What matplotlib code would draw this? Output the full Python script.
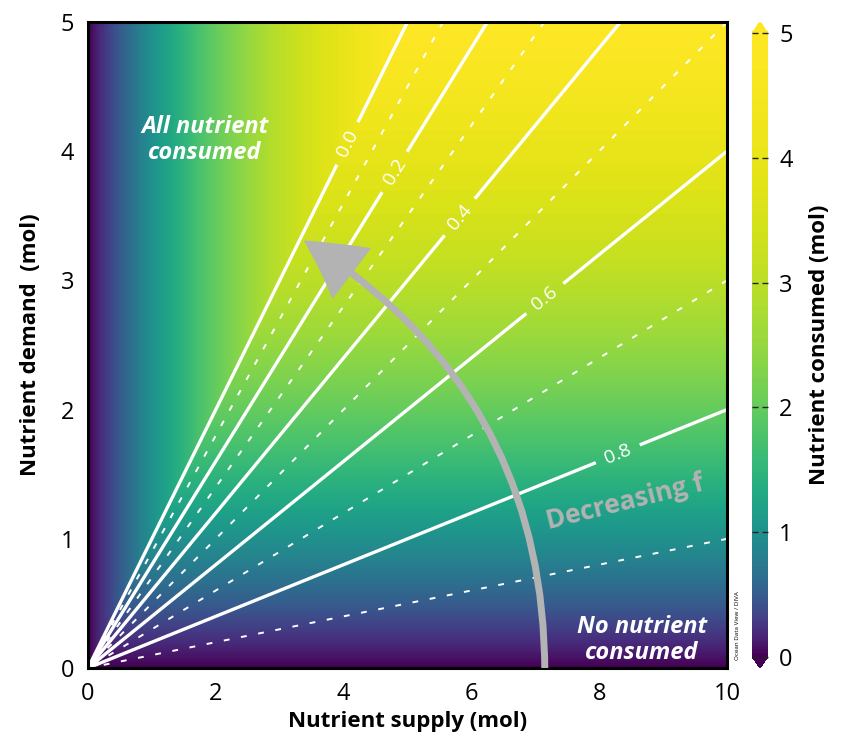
import numpy as np
import matplotlib
matplotlib.use("Agg")
import matplotlib.pyplot as plt
from matplotlib.colors import ListedColormap
from matplotlib.patches import FancyArrowPatch, ArrowStyle

plt.rcParams['font.family'] = ['Open Sans', 'DejaVu Sans']

# grid of nutrient supply / demand (mol)
supply = np.linspace(0.001, 10, 501)
demand = np.linspace(0, 5, 501)

# contour levels of f (fraction of supply left over)
solid_levels = [0.0, 0.2, 0.4, 0.6, 0.8]
dotted_levels = [0.1, 0.3, 0.5, 0.7, 0.9]
# where the level labels sit (supply, demand)
label_pos = [(3.94, 4.09), (4.80, 3.84), (5.82, 3.49), (7.15, 2.86), (8.29, 1.66)]

x_ticks = [0, 2, 4, 6, 8, 10]
y_ticks = [0, 1, 2, 3, 4, 5]
cb_ticks = [0, 1, 2, 3, 4, 5]

S, D = np.meshgrid(supply, demand)
consumed = np.minimum(S, D)
f = 1 - D / S

# ODV style palette: viridis stretched so that low values change fastest
k = 1.5
t = np.linspace(0, 5, 256)
g = (1 - np.exp(-t / k)) / (1 - np.exp(-5 / k))
cmap = ListedColormap(plt.get_cmap('viridis')(g))

fig = plt.figure(figsize=(8.45, 7.55), dpi=100)
ax = fig.add_axes([0.1041, 0.1152, 0.7562, 0.8556])
cax = fig.add_axes([0.890, 0.1152, 0.0189, 0.8556])

im = ax.imshow(consumed, extent=[0, 10, 0, 5], origin='lower', aspect='auto',
               cmap=cmap, vmin=0, vmax=5, interpolation='bilinear')

cs = ax.contour(S, D, f, levels=solid_levels, colors='white', linewidths=2.4)
ax.clabel(cs, fmt='%.1f', fontsize=14, inline=True, inline_spacing=10,
          manual=label_pos, colors='white')
ax.contour(S, D, f, levels=dotted_levels, colors='white', linewidths=1.4,
           linestyles=[(0, (3, 6))])

# curved "decreasing f" arrow
arrow = FancyArrowPatch((7.15, -0.05), (3.34, 3.32),
                        connectionstyle="arc3,rad=0.28",
                        arrowstyle=ArrowStyle.Simple(head_length=42, head_width=46, tail_width=5),
                        mutation_scale=1, facecolor='#b3b3b3', edgecolor='none',
                        zorder=5, clip_on=True)
ax.add_patch(arrow)

ax.text(8.4, 1.28, 'Decreasing f', color='#b3b3b3', fontsize=19, fontweight='bold',
        rotation=14, ha='center', va='center', zorder=6)
ax.text(1.83, 4.09, 'All nutrient\nconsumed', color='white', fontsize=17,
        fontweight='bold', fontstyle='italic', ha='center', va='center', linespacing=1.1)
ax.text(8.67, 0.22, 'No nutrient\nconsumed', color='white', fontsize=17,
        fontweight='bold', fontstyle='italic', ha='center', va='center', linespacing=1.1)
ax.text(1.012, 0.012, 'Ocean Data View / DIVA', transform=ax.transAxes, rotation=90,
        fontsize=4.5, ha='left', va='bottom', color='black')

ax.set_xlim(0, 10)
ax.set_ylim(0, 5)
ax.set_xticks(x_ticks)
ax.set_yticks(y_ticks)
ax.tick_params(length=0, labelsize=17, pad=10)
for sp in ax.spines.values():
    sp.set_linewidth(2.2)
    sp.set_color('black')

ax.set_xlabel('Nutrient supply (mol)', fontsize=16, fontweight='bold', labelpad=4)
ax.set_ylabel('Nutrient demand  (mol)', fontsize=16, fontweight='bold', labelpad=14)

cb = fig.colorbar(im, cax=cax, extend='both', extendfrac=0.018, ticks=cb_ticks)
cb.outline.set_visible(False)
cb.ax.tick_params(labelsize=17, length=4, width=1, direction='in', color='#222222',
                  pad=8, left=True, right=True)
cb.set_label('Nutrient consumed (mol)', fontsize=16, fontweight='bold', labelpad=12)

fig.savefig('out.png', dpi=100)
